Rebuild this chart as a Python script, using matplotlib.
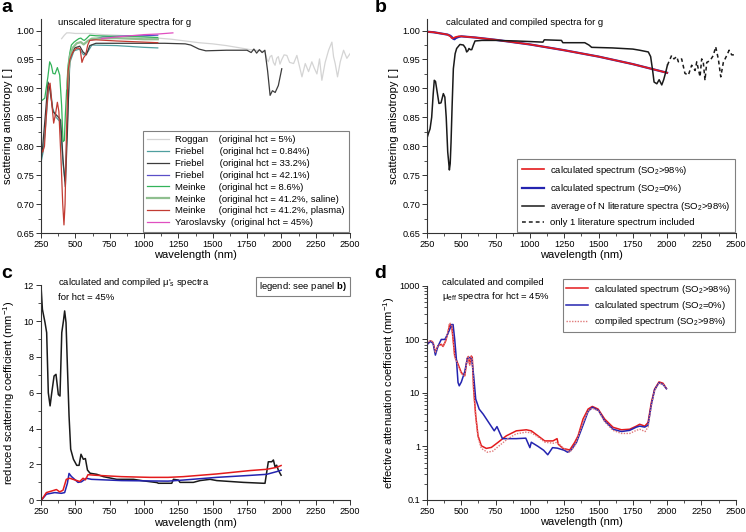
import matplotlib
matplotlib.use('Agg')
import matplotlib.pyplot as plt
from matplotlib.ticker import MultipleLocator, LogLocator, NullFormatter

plt.rcParams['font.family'] = ['Liberation Sans', 'DejaVu Sans']
plt.rcParams['mathtext.fontset'] = 'custom'
plt.rcParams['mathtext.rm'] = 'Liberation Sans'
plt.rcParams['mathtext.it'] = 'Liberation Sans:italic'
plt.rcParams['mathtext.bf'] = 'Liberation Sans:bold'

# ---------------- panel a: unscaled literature spectra of g ----------------
lit_names = ['Roggan', 'Friebel', 'Friebel', 'Friebel', 'Meinke', 'Meinke', 'Meinke', 'Yaroslavsky']
lit_notes = ['(original hct = 5%)', '(original hct = 0.84%)', '(original hct = 33.2%)',
             '(original hct = 42.1%)', '(original hct = 8.6%)', '(original hct = 41.2%, saline)',
             '(original hct = 41.2%, plasma)', '(original hct = 45%)']

roggan_wl = [400, 420, 437, 460, 500, 600, 700, 800, 1000, 1200, 1400, 1500, 1600, 1700, 1773, 1850,
             1881, 1895, 1905, 1918, 1930, 1942, 1954, 1966, 1978, 1990, 2003, 2020, 2040, 2060, 2089,
             2113, 2130, 2150, 2174, 2198, 2222, 2240, 2259, 2278, 2295, 2319, 2344, 2368, 2380, 2392,
             2409, 2429, 2453, 2477, 2500]
roggan_g = [0.986, 0.992, 0.996, 0.996, 0.995, 0.995, 0.993, 0.992, 0.989, 0.985, 0.979, 0.977, 0.974,
            0.970, 0.967, 0.965, 0.963, 0.950, 0.946, 0.955, 0.957, 0.945, 0.940, 0.952, 0.955, 0.942,
            0.950, 0.958, 0.957, 0.945, 0.943, 0.957, 0.940, 0.920, 0.943, 0.929, 0.946, 0.935, 0.925,
            0.951, 0.914, 0.945, 0.966, 0.980, 0.955, 0.943, 0.920, 0.946, 0.966, 0.952, 0.960]

fr084_wl = [250, 265, 285, 303, 316, 335, 360, 390, 410, 425, 440, 460, 490, 530, 560, 590, 620, 800, 1000, 1100]
fr084_g = [0.772, 0.79, 0.84, 0.895, 0.905, 0.865, 0.85, 0.842, 0.77, 0.74, 0.83, 0.945, 0.965, 0.968,
           0.958, 0.963, 0.975, 0.974, 0.971, 0.970]

fr332_wl = [250, 262, 280, 301, 313, 337, 374, 393, 410, 427, 442, 459, 495, 532, 556, 580, 605, 650, 800,
            1000, 1150, 1300, 1340, 1400, 1450, 1600, 1750, 1780, 1800, 1820, 1840, 1860, 1880, 1900,
            1918, 1935, 1955, 1978, 2003]
fr332_g = [0.776, 0.80, 0.85, 0.911, 0.900, 0.860, 0.851, 0.845, 0.778, 0.730, 0.825, 0.952, 0.970, 0.973,
           0.963, 0.958, 0.974, 0.978, 0.978, 0.978, 0.978, 0.977, 0.975, 0.968, 0.965, 0.966, 0.966,
           0.962, 0.968, 0.961, 0.967, 0.962, 0.966, 0.930, 0.888, 0.896, 0.893, 0.905, 0.934]

fr421_wl = [620, 700, 800, 900, 1000, 1100]
fr421_g = [0.984, 0.989, 0.990, 0.991, 0.991, 0.992]

me86_wl = [250, 277, 300, 313, 325, 337, 352, 369, 386, 400, 410, 420, 427, 437, 447, 460, 471, 490, 507,
           525, 540, 555, 565, 580, 605, 650, 800, 1000, 1100]
me86_g = [0.878, 0.883, 0.92, 0.946, 0.94, 0.926, 0.925, 0.936, 0.923, 0.87, 0.808, 0.81, 0.854, 0.90,
          0.940, 0.962, 0.975, 0.980, 0.983, 0.986, 0.987, 0.984, 0.983, 0.986, 0.992, 0.991, 0.990,
          0.989, 0.988]

mesal_wl = [440, 460, 480, 510, 540, 560, 590, 620, 800, 1000, 1100]
mesal_g = [0.90, 0.955, 0.970, 0.978, 0.980, 0.976, 0.982, 0.986, 0.987, 0.985, 0.985]

mepla_wl = [250, 262, 275, 290, 305, 316, 330, 342, 355, 369, 380, 395, 408, 417, 425, 435, 447, 460, 480,
            500, 520, 535, 548, 560, 575, 590, 605, 650, 800, 1000, 1100]
mepla_g = [0.795, 0.79, 0.80, 0.86, 0.905, 0.909, 0.87, 0.840, 0.855, 0.876, 0.86, 0.78, 0.70, 0.664,
           0.70, 0.82, 0.93, 0.950, 0.962, 0.968, 0.970, 0.968, 0.945, 0.953, 0.958, 0.975, 0.983,
           0.984, 0.982, 0.980, 0.979]

yaro_wl = [690, 800, 900, 1000, 1100, 1210]
yaro_g = [0.986, 0.989, 0.991, 0.993, 0.994, 0.996]

# ---------------- panel b: calculated and compiled g ----------------
calc_wl = [250, 300, 350, 400, 420, 430, 440, 450, 460, 480, 500, 600, 750, 1000, 1250, 1500, 1750, 2000]
g_calc_ox = [0.998, 0.997, 0.995, 0.993, 0.990, 0.987, 0.987, 0.988, 0.989, 0.990, 0.990, 0.988, 0.984,
             0.976, 0.966, 0.955, 0.942, 0.927]
g_calc_deox = [0.998, 0.997, 0.995, 0.993, 0.991, 0.989, 0.986, 0.985, 0.987, 0.989, 0.990, 0.988, 0.984,
               0.976, 0.966, 0.955, 0.942, 0.927]

avg_wl = [250, 260, 272, 284, 295, 303, 312, 320, 337, 352, 369, 380, 390, 401, 407, 413, 419, 425, 433,
          442, 455, 466, 490, 515, 530, 539, 548, 556, 566, 576, 588, 600, 650, 750, 900, 1000, 1095, 1105,
          1230, 1240, 1400, 1430, 1450, 1600, 1750, 1800, 1863, 1880, 1895, 1905, 1925, 1942, 1961, 1975,
          1990, 2002]
g_avg = [0.814, 0.822, 0.83, 0.85, 0.89, 0.914, 0.912, 0.900, 0.874, 0.875, 0.891, 0.885, 0.85, 0.79, 0.775,
         0.759, 0.77, 0.806, 0.87, 0.934, 0.96, 0.969, 0.976, 0.975, 0.97, 0.963, 0.965, 0.969, 0.967,
         0.967, 0.975, 0.982, 0.983, 0.983, 0.982, 0.981, 0.980, 0.984, 0.983, 0.979, 0.979, 0.975, 0.971,
         0.970, 0.968, 0.966, 0.963, 0.955, 0.930, 0.911, 0.908, 0.915, 0.906, 0.915, 0.928, 0.940]

single_wl = [2002, 2033, 2050, 2070, 2082, 2106, 2130, 2155, 2179, 2204, 2216, 2240, 2252, 2264, 2276, 2289,
             2313, 2337, 2354, 2374, 2391, 2410, 2435, 2452, 2471, 2495]
g_single = [0.940, 0.957, 0.951, 0.955, 0.946, 0.951, 0.926, 0.923, 0.940, 0.931, 0.946, 0.920, 0.951,
            0.945, 0.914, 0.945, 0.948, 0.957, 0.972, 0.950, 0.920, 0.945, 0.957, 0.966, 0.958, 0.958]

# ---------------- panel c: reduced scattering coefficient ----------------
musr_avg_wl = [250, 260, 279, 291, 303, 316, 328, 345, 359, 376, 388, 401, 413, 422, 432, 442, 454, 466, 486,
               510, 527, 541, 558, 573, 588, 607, 656, 704, 801, 923, 1000, 1093, 1105, 1202, 1214, 1250,
               1262, 1359, 1408, 1481, 1530, 1626, 1723, 1869, 1881, 1905, 1930, 1942, 1954, 1966, 1978, 1998]
musr_avg = [11.96, 10.66, 9.92, 9.36, 6.0, 5.27, 6.0, 6.94, 7.03, 5.9, 5.82, 9.36, 10.0, 10.57, 9.92, 7.5,
            4.71, 2.85, 2.29, 1.95, 1.95, 2.57, 2.29, 2.33, 1.69, 1.51, 1.45, 1.32, 1.17, 1.17, 1.08, 0.99,
            0.95, 0.95, 1.17, 1.13, 1.0, 1.0, 1.1, 1.17, 1.1, 1.05, 1.0, 0.95, 0.95, 2.15, 2.15, 2.25, 1.87,
            1.96, 1.68, 1.40]

musr_ox_wl = [252, 289, 337, 362, 386, 410, 434, 459, 495, 532, 556, 573, 592, 641, 835, 1044, 1175, 1286,
              1529, 1772, 1893, 1966, 1998]
musr_ox = [0.0, 0.43, 0.54, 0.60, 0.47, 0.56, 1.17, 1.23, 1.14, 1.05, 1.23, 1.14, 1.43, 1.40, 1.32, 1.28,
           1.28, 1.32, 1.47, 1.66, 1.73, 1.84, 1.94]

musr_deox_wl = [252, 289, 350, 398, 422, 442, 454, 471, 519, 544, 580, 617, 835, 1044, 1175, 1286, 1529,
                1772, 1893, 1966, 1998]
musr_deox = [0.0, 0.34, 0.43, 0.39, 0.43, 0.95, 1.50, 1.33, 1.0, 1.03, 1.23, 1.17, 1.10, 1.08, 1.07, 1.13,
             1.28, 1.39, 1.45, 1.60, 1.68]

# ---------------- panel d: effective attenuation coefficient ----------------
mueff_ox_wl = [250, 274, 294, 311, 330, 354, 367, 386, 403, 415, 430, 440, 452, 476, 500, 525, 542, 551,
               561, 573, 580, 590, 605, 622, 646, 682, 719, 767, 828, 901, 974, 1010, 1059, 1108, 1168,
               1198, 1207, 1241, 1290, 1326, 1351, 1387, 1424, 1455, 1497, 1545, 1606, 1667, 1727, 1776,
               1800, 1837, 1861, 1885, 1909, 1941, 1970, 1995]
mueff_ox = [81, 94, 88, 57, 76, 81, 74, 94, 135, 192, 180, 102, 49, 34.5, 24, 21, 43, 48, 34, 49, 46, 11.8,
            3.75, 1.58, 1.03, 0.92, 0.96, 1.19, 1.58, 1.96, 2.05, 1.96, 1.58, 1.27, 1.27, 1.40, 1.10, 0.92,
            0.86, 1.19, 1.58, 3.25, 5.0, 5.6, 5.0, 3.25, 2.28, 2.05, 2.1, 2.4, 2.6, 2.4, 2.8, 6.6, 11.8,
            16.1, 15.2, 12.1]

mueff_deox_wl = [250, 274, 294, 311, 330, 354, 380, 403, 430, 440, 452, 465, 476, 485, 500, 525, 545, 560,
                 575, 590, 605, 630, 660, 700, 740, 760, 780, 800, 900, 970, 1000, 1010, 1060, 1100, 1130,
                 1165, 1200, 1250, 1275, 1300, 1340, 1387, 1424, 1455, 1500, 1545, 1606, 1667, 1727, 1776,
                 1800, 1837, 1861, 1885, 1909, 1941, 1970, 1995]
mueff_deox = [80, 92, 85, 51, 75, 100, 100, 130, 190, 190, 100, 40, 15.7, 13.6, 16, 25, 45, 46, 45, 21,
              7.7, 5.0, 4.0, 2.8, 1.96, 2.35, 1.8, 1.4, 1.4, 1.43, 0.95, 1.2, 1.0, 0.85, 0.70, 0.95, 0.93,
              0.85, 0.78, 0.85, 1.2, 2.5, 4.5, 5.4, 4.7, 3.0, 2.1, 1.9, 2.0, 2.3, 2.4, 2.3, 2.5, 6.0, 11.5,
              15.5, 14.5, 12.0]

mueff_comp_wl = [250, 274, 294, 311, 330, 354, 367, 386, 403, 415, 430, 440, 452, 476, 500, 525, 542, 551,
                 561, 573, 580, 590, 605, 622, 646, 690, 730, 780, 840, 900, 970, 1010, 1060, 1110, 1170,
                 1200, 1240, 1290, 1330, 1390, 1424, 1455, 1500, 1545, 1606, 1667, 1727, 1776, 1800, 1840,
                 1861, 1885, 1909, 1941, 1970, 1995]
mueff_comp = [84, 97, 90, 56, 77, 80, 73, 95, 140, 205, 185, 100, 47, 33, 23, 21, 42, 47, 33, 47, 44, 11,
              3.5, 1.45, 0.92, 0.78, 0.82, 1.05, 1.4, 1.72, 1.85, 1.8, 1.5, 1.2, 1.15, 1.2, 0.95, 0.78, 1.05,
              2.9, 4.6, 5.2, 4.6, 2.9, 2.0, 1.75, 1.75, 2.0, 2.1, 1.9, 2.3, 5.8, 11.0, 15.4, 14.5, 12.0]

RED = '#e41a1c'
BLUE = '#2424b0'
BLACK = '#1a1a1a'
TICK_FS = 6.6
LABEL_FS = 8
TEXT_FS = 6.8


def style_axes(ax):
    for side in ('top', 'right'):
        ax.spines[side].set_visible(False)
    for side in ('left', 'bottom'):
        ax.spines[side].set_linewidth(0.8)
        ax.spines[side].set_color('#333333')
    ax.tick_params(which='major', direction='out', length=3.5, width=0.7, labelsize=TICK_FS, pad=1.5,
                   color='#333333')
    ax.tick_params(which='minor', direction='out', length=2, width=0.6, color='#333333')
    ax.set_xlim(250, 2500)
    ax.xaxis.set_major_locator(MultipleLocator(250))
    ax.xaxis.set_minor_locator(MultipleLocator(125))
    ax.set_xlabel('wavelength (nm)', fontsize=LABEL_FS, labelpad=1)


def boxed_legend(ax, handles, labels, **kw):
    leg = ax.legend(handles, labels, borderaxespad=0, fontsize=TEXT_FS, frameon=True, fancybox=False,
                    edgecolor='#808080', framealpha=1, handlelength=2.3, handletextpad=0.6, **kw)
    leg.get_frame().set_linewidth(0.8)
    return leg


fig = plt.figure(figsize=(7.46, 5.32), dpi=100)
renderer = fig.canvas.get_renderer()


def text_width(s):
    t = fig.text(0, 0, s, fontsize=TEXT_FS)
    w = t.get_window_extent(renderer).width
    t.remove()
    return w


def padded_labels(names, notes, ref_spaces=4):
    # pad the names with spaces so the "(original ..." parts start in one column
    target = text_width(names[0] + ' ' * ref_spaces + '(')
    out = []
    for name, note in zip(names, notes):
        if name == 'Yaroslavsky':
            out.append(name + '  ' + note)
            continue
        n = min(range(1, 12), key=lambda k: abs(text_width(name + ' ' * k + '(') - target))
        out.append(name + ' ' * n + note)
    return out


ax_a = fig.add_axes([0.0550, 0.5620, 0.4142, 0.4023])
ax_b = fig.add_axes([0.5724, 0.5620, 0.4138, 0.4023])
ax_c = fig.add_axes([0.0550, 0.0596, 0.4142, 0.4041])
ax_d = fig.add_axes([0.5724, 0.0602, 0.4138, 0.4023])

# --- a ---
lit_labels = padded_labels(lit_names, lit_notes)
ax_a.plot(roggan_wl, roggan_g, color='#d4d4d4', lw=0.9, label=lit_labels[0])
ax_a.plot(fr084_wl, fr084_g, color='#4f9f9f', lw=0.9, label=lit_labels[1])
ax_a.plot(fr332_wl, fr332_g, color='#3c3c3c', lw=0.9, label=lit_labels[2])
ax_a.plot(fr421_wl, fr421_g, color='#5a4fc8', lw=0.9, label=lit_labels[3])
ax_a.plot(me86_wl, me86_g, color='#33b35a', lw=0.9, label=lit_labels[4])
ax_a.plot(mesal_wl, mesal_g, color='#8fbf8f', lw=1.6, label=lit_labels[5])
ax_a.plot(mepla_wl, mepla_g, color='#c23b32', lw=0.9, label=lit_labels[6])
ax_a.plot(yaro_wl, yaro_g, color='#e04fc0', lw=0.9, label=lit_labels[7])
ax_a.set_ylim(0.65, 1.02)
ax_a.yaxis.set_major_locator(MultipleLocator(0.05))
ax_a.yaxis.set_minor_locator(MultipleLocator(0.025))
ax_a.yaxis.set_major_formatter(plt.FormatStrFormatter('%.2f'))
ax_a.set_ylabel('scattering anisotropy [ ]', fontsize=LABEL_FS, labelpad=2)
style_axes(ax_a)
ax_a.text(0.054, 0.983, 'unscaled literature spectra for g', transform=ax_a.transAxes,
          fontsize=TEXT_FS, va='center', ha='left')
h, l = ax_a.get_legend_handles_labels()
boxed_legend(ax_a, h, l, loc='lower right', bbox_to_anchor=(0.997, 0.005), labelspacing=0.3,
             borderpad=0.5)

# --- b ---
ax_b.plot(calc_wl, g_calc_deox, color=BLUE, lw=1.6, label=r'calculated spectrum (SO$_2$=0%)')
ax_b.plot(calc_wl, g_calc_ox, color=RED, lw=1.2, label=r'calculated spectrum (SO$_2$>98%)')
ax_b.plot(avg_wl, g_avg, color=BLACK, lw=1.1, label=r'average of N literature spectra (SO$_2$>98%)')
ax_b.plot(single_wl, g_single, color=BLACK, lw=1.1, ls=(0, (2.5, 2)),
          label='only 1 literature spectrum included')
ax_b.set_ylim(0.65, 1.02)
ax_b.yaxis.set_major_locator(MultipleLocator(0.05))
ax_b.yaxis.set_minor_locator(MultipleLocator(0.025))
ax_b.yaxis.set_major_formatter(plt.FormatStrFormatter('%.2f'))
ax_b.set_ylabel('scattering anisotropy [ ]', fontsize=LABEL_FS, labelpad=2)
style_axes(ax_b)
ax_b.text(0.061, 0.983, 'calculated and compiled spectra for g', transform=ax_b.transAxes,
          fontsize=TEXT_FS, va='center', ha='left')
h, l = ax_b.get_legend_handles_labels()
order = [1, 0, 2, 3]
boxed_legend(ax_b, [h[i] for i in order], [l[i] for i in order], loc='lower right',
             bbox_to_anchor=(0.997, 0.005), labelspacing=0.55, borderpad=0.5)

# --- c ---
ax_c.plot(musr_avg_wl, musr_avg, color=BLACK, lw=1.1)
ax_c.plot(musr_deox_wl, musr_deox, color=BLUE, lw=1.1)
ax_c.plot(musr_ox_wl, musr_ox, color=RED, lw=1.1)
ax_c.set_ylim(0, 12)
ax_c.yaxis.set_major_locator(MultipleLocator(2))
ax_c.yaxis.set_minor_locator(MultipleLocator(1))
ax_c.set_ylabel(r'reduced scattering coefficient (mm$^{-1}$)', fontsize=LABEL_FS, labelpad=5)
style_axes(ax_c)
ax_c.text(0.054, 1.012, "calculated and compiled \u03bc'$_\\mathrm{s}$ spectra", transform=ax_c.transAxes,
          fontsize=TEXT_FS, va='center', ha='left')
ax_c.text(0.054, 0.942, 'for hct = 45%', transform=ax_c.transAxes, fontsize=TEXT_FS, va='center',
          ha='left')
ax_c.text(0.99, 0.994, r'legend: see panel $\mathbf{b)}$', transform=ax_c.transAxes, fontsize=TEXT_FS,
          va='center', ha='right',
          bbox=dict(boxstyle='square,pad=0.35', fc='white', ec='#808080', lw=0.8))

# --- d ---
ax_d.plot(mueff_ox_wl, mueff_ox, color=RED, lw=1.1, label=r'calculated spectrum (SO$_2$>98%)')
ax_d.plot(mueff_deox_wl, mueff_deox, color=BLUE, lw=1.1, label=r'calculated spectrum (SO$_2$=0%)')
ax_d.plot(mueff_comp_wl, mueff_comp, color='#e07a7a', lw=1.0, ls=(0, (1, 1)),
          label=r'compiled spectrum (SO$_2$>98%)')
ax_d.set_yscale('log')
ax_d.set_ylim(0.1, 1000)
ax_d.set_yticks([0.1, 1, 10, 100, 1000], labels=['0.1', '1', '10', '100', '1000'])
ax_d.yaxis.set_minor_locator(LogLocator(base=10, subs=range(2, 10)))
ax_d.yaxis.set_minor_formatter(NullFormatter())
ax_d.set_ylabel(r'effective attenuation coefficient (mm$^{-1}$)', fontsize=LABEL_FS, labelpad=2)
style_axes(ax_d)
ax_d.text(0.050, 1.015, 'calculated and compiled', transform=ax_d.transAxes, fontsize=TEXT_FS,
          va='center', ha='left')
ax_d.text(0.050, 0.950, '\u03bc$_\\mathrm{eff}$ spectra for hct = 45%', transform=ax_d.transAxes,
          fontsize=TEXT_FS, va='center', ha='left')
h, l = ax_d.get_legend_handles_labels()
boxed_legend(ax_d, h, l, loc='upper right', bbox_to_anchor=(0.997, 1.033), labelspacing=0.35,
             borderpad=0.4)

# panel letters
for x, y, s in [(0.002, 0.977, 'a'), (0.502, 0.977, 'b'), (0.002, 0.478, 'c'), (0.502, 0.478, 'd')]:
    fig.text(x, y, s, fontsize=14, fontweight='bold', va='baseline', ha='left')

fig.savefig('out.png', dpi=100)
